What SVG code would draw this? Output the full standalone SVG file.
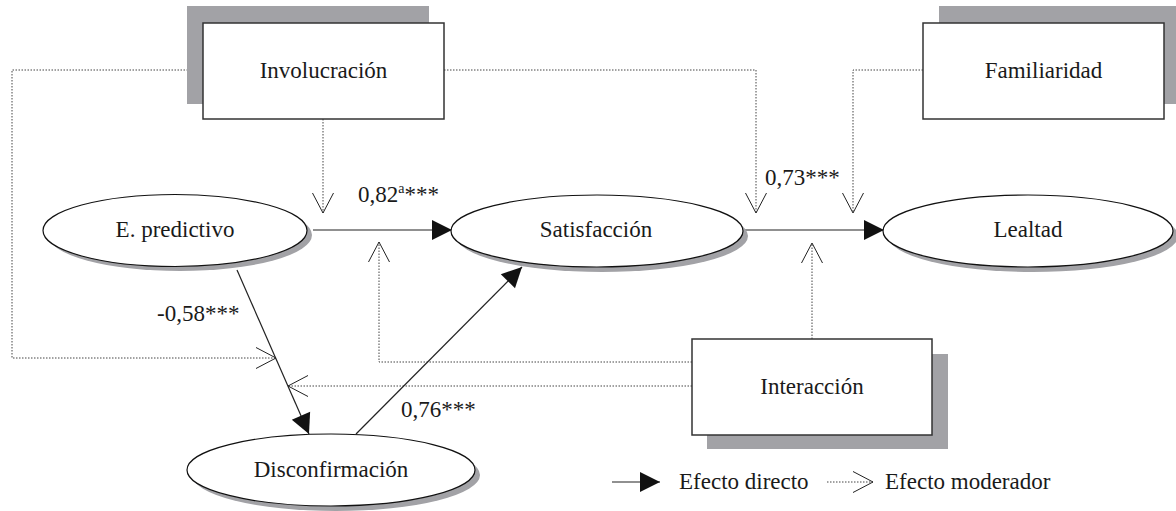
<svg xmlns="http://www.w3.org/2000/svg" width="1176" height="511" viewBox="0 0 1176 511">
<style>
.t{font-family:"Liberation Serif","Times New Roman",serif;font-size:23px;fill:#1a1a1a}
.box{fill:#fff;stroke:#333;stroke-width:1.5}
.shadow{fill:#a2a2a6}
.ell{fill:#fff;stroke:#111;stroke-width:1.2}
.direct{fill:none;stroke:#222;stroke-width:1.2;marker-end:url(#filled)}
.mod{fill:none;stroke:#444;stroke-width:1;stroke-dasharray:1.5 1.5;marker-end:url(#open)}
</style>
<defs>
<marker id="filled" markerUnits="userSpaceOnUse" markerWidth="20" markerHeight="20" refX="20" refY="10" orient="auto" viewBox="0 0 20 20" overflow="visible"><path d="M0,0 L20,10 L0,20 z" fill="#111"/></marker>
<marker id="open" markerUnits="userSpaceOnUse" markerWidth="22" markerHeight="24" refX="21" refY="11.5" orient="auto" viewBox="0 0 22 24" overflow="visible"><path d="M1,1 L21,11.5 L1,22" fill="none" stroke="#222" stroke-width="1"/></marker>
</defs>
<rect width="1176" height="511" fill="#fff"/>
<g id="connectors">
<path class="mod" d="M323,119 V213"/>
<path class="mod" d="M203,70 H12 V358 H276"/>
<path class="mod" d="M444,70 H756 V213"/>
<path class="mod" d="M923,70 H853 V213"/>
<path class="mod" d="M812,339 V243"/>
<path class="mod" d="M692,362 H379 V242"/>
<path class="mod" d="M692,386 H288"/>
<path class="direct" d="M313,230 H452"/>
<path class="direct" d="M745,230 H884"/>
<path class="direct" d="M237,270 L309,434"/>
<path class="direct" d="M356,434 L522,267"/>
</g>
<g id="involucracion">
<rect class="shadow" x="187" y="6" width="242" height="98"/>
<rect class="box" x="203" y="23" width="241" height="96"/>
<text class="t" x="323.5" y="78" text-anchor="middle">Involucración</text>
</g>
<g id="familiaridad">
<rect class="shadow" x="939" y="6" width="240" height="98"/>
<rect class="box" x="923" y="23" width="241" height="96"/>
<text class="t" x="1043.5" y="78" text-anchor="middle">Familiaridad</text>
</g>
<g id="interaccion">
<rect class="shadow" x="707" y="354" width="241" height="95"/>
<rect class="box" x="692" y="339" width="240" height="96"/>
<text class="t" x="812" y="394" text-anchor="middle">Interacción</text>
</g>
<g id="epredictivo">
<ellipse class="shadow" cx="180" cy="235" rx="132" ry="36"/>
<ellipse class="ell" cx="175" cy="230.5" rx="132" ry="36"/>
<text class="t" x="175" y="237" text-anchor="middle">E. predictivo</text>
</g>
<g id="satisfaccion">
<ellipse class="shadow" cx="602" cy="236" rx="146" ry="36"/>
<ellipse class="ell" cx="597" cy="231" rx="146" ry="36"/>
<text class="t" x="596" y="237" text-anchor="middle">Satisfacción</text>
</g>
<g id="lealtad">
<ellipse class="shadow" cx="1033" cy="236" rx="145" ry="36"/>
<ellipse class="ell" cx="1028" cy="231" rx="145" ry="36"/>
<text class="t" x="1028" y="237" text-anchor="middle">Lealtad</text>
</g>
<g id="disconfirmacion">
<ellipse class="shadow" cx="336" cy="475" rx="144" ry="36"/>
<ellipse class="ell" cx="331" cy="470" rx="144" ry="36"/>
<text class="t" x="331" y="477" text-anchor="middle">Disconfirmación</text>
</g>
<g id="labels">
<text class="t" x="358" y="202">0,82<tspan font-size="14" dy="-9">a</tspan><tspan dy="9">***</tspan></text>
<text class="t" x="765" y="185">0,73***</text>
<text class="t" x="157" y="321">-0,58***</text>
<text class="t" x="401" y="417">0,76***</text>
</g>
<g id="legend">
<path class="direct" d="M612,482 H660"/>
<text class="t" x="679" y="489">Efecto directo</text>
<path class="mod" d="M827,482 H873"/>
<text class="t" x="885" y="489">Efecto moderador</text>
</g>
</svg>
